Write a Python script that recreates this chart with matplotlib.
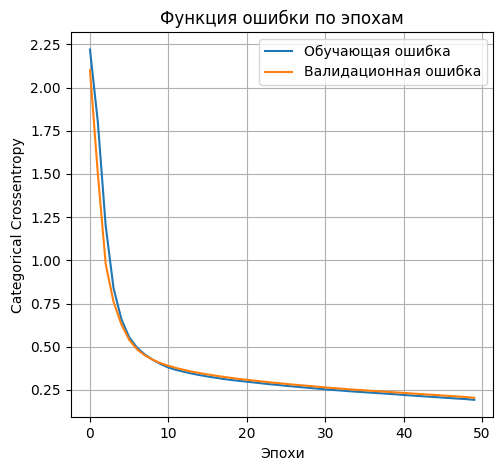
import matplotlib
matplotlib.use("Agg")
import matplotlib.pyplot as plt

epochs = list(range(50))

train_loss = [
    2.22, 1.80, 1.20, 0.84, 0.66, 0.555, 0.495, 0.455, 0.425, 0.400,
    0.380, 0.366, 0.355, 0.345, 0.336, 0.328, 0.321, 0.314, 0.308, 0.303,
    0.298, 0.293, 0.288, 0.283, 0.279, 0.274, 0.270, 0.266, 0.262, 0.258,
    0.254, 0.250, 0.247, 0.243, 0.240, 0.237, 0.234, 0.231, 0.228, 0.225,
    0.221, 0.218, 0.215, 0.212, 0.209, 0.206, 0.203, 0.200, 0.197, 0.193,
]

val_loss = [
    2.10, 1.50, 0.98, 0.76, 0.63, 0.540, 0.485, 0.450, 0.425, 0.405,
    0.390, 0.377, 0.366, 0.356, 0.348, 0.340, 0.333, 0.326, 0.320, 0.314,
    0.309, 0.304, 0.299, 0.294, 0.290, 0.285, 0.281, 0.277, 0.273, 0.269,
    0.265, 0.261, 0.258, 0.254, 0.251, 0.248, 0.245, 0.242, 0.239, 0.236,
    0.233, 0.230, 0.227, 0.224, 0.221, 0.218, 0.215, 0.212, 0.209, 0.205,
]

fig, ax = plt.subplots(figsize=(5.02, 4.7), dpi=100)
ax.plot(epochs, train_loss, label="Обучающая ошибка")
ax.plot(epochs, val_loss, label="Валидационная ошибка")
ax.set_title("Функция ошибки по эпохам")
ax.set_xlabel("Эпохи")
ax.set_ylabel("Categorical Crossentropy")
ax.grid(True)
ax.legend(loc="upper right")

fig.subplots_adjust(left=0.141, right=0.983, bottom=0.112, top=0.932)
fig.savefig("out.png", dpi=100)
